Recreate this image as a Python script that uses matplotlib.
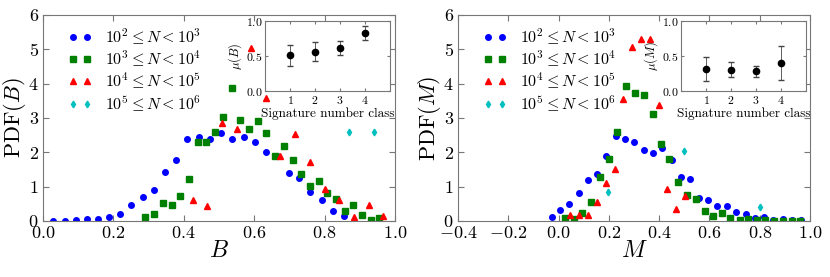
import matplotlib
matplotlib.use('Agg')
import matplotlib.pyplot as plt
import numpy as np

plt.rcParams['font.family'] = 'serif'
plt.rcParams['font.serif'] = ['cmr10', 'DejaVu Serif']
plt.rcParams['mathtext.fontset'] = 'cm'
plt.rcParams['axes.formatter.use_mathtext'] = True
plt.rcParams['axes.unicode_minus'] = True

# ---- data ----
labels = [r'$10^2 \leq N < 10^3$', r'$10^3 \leq N < 10^4$',
          r'$10^4 \leq N < 10^5$', r'$10^5 \leq N < 10^6$']

# PDF(B)
b1_x = [0.028, 0.062, 0.093, 0.125, 0.156, 0.188, 0.220, 0.251, 0.284, 0.315, 0.348, 0.379,
        0.410, 0.443, 0.474, 0.507, 0.538, 0.571, 0.602, 0.633, 0.665, 0.698, 0.728, 0.760,
        0.792, 0.824, 0.856]
b1_y = [0.0, 0.0, 0.02, 0.05, 0.06, 0.13, 0.20, 0.47, 0.69, 0.89, 1.42, 1.78,
        2.38, 2.46, 2.40, 2.55, 2.40, 2.46, 2.29, 2.00, 1.90, 1.39, 1.24, 0.84,
        0.61, 0.29, 0.15]
b2_x = [0.291, 0.316, 0.340, 0.366, 0.390, 0.414, 0.440, 0.464, 0.488, 0.512, 0.537, 0.561,
        0.586, 0.610, 0.635, 0.660, 0.684, 0.709, 0.734, 0.758, 0.783, 0.807, 0.832, 0.857,
        0.881, 0.906, 0.931, 0.955]
b2_y = [0.12, 0.21, 0.52, 0.47, 0.72, 1.22, 2.30, 2.30, 2.59, 3.02, 3.88, 2.95,
        2.67, 2.90, 2.56, 1.89, 2.17, 1.77, 1.37, 1.03, 1.17, 0.81, 0.65, 0.28,
        0.47, 0.16, 0.03, 0.08]
b3_x = [0.425, 0.466, 0.508, 0.550, 0.591, 0.633, 0.673, 0.716, 0.758, 0.800, 0.842, 0.883,
        0.925, 0.967]
b3_y = [0.61, 0.45, 2.85, 2.69, 5.05, 3.58, 1.90, 2.52, 1.72, 0.94, 0.61, 0.13,
        0.47, 0.15]
b4_x = [0.870, 0.940]
b4_y = [2.58, 2.58]

# PDF(M)
m1_x = [-0.028, 0.007, 0.043, 0.080, 0.117, 0.153, 0.190, 0.228, 0.266, 0.302, 0.339, 0.375,
        0.412, 0.450, 0.486, 0.524, 0.559, 0.595, 0.632, 0.669, 0.707, 0.744, 0.781, 0.818,
        0.855, 0.891, 0.927, 0.963]
m1_y = [0.13, 0.32, 0.50, 0.81, 1.19, 1.37, 1.90, 2.48, 2.38, 2.31, 2.07, 1.98,
        2.14, 1.77, 1.29, 1.21, 0.66, 0.60, 0.45, 0.43, 0.25, 0.21, 0.08, 0.11,
        0.02, 0.06, 0.02, 0.04]
m2_x = [0.027, 0.062, 0.095, 0.131, 0.165, 0.200, 0.233, 0.269, 0.303, 0.339, 0.374, 0.407,
        0.441, 0.477, 0.512, 0.546, 0.582, 0.616, 0.651, 0.684, 0.720, 0.754, 0.789, 0.823,
        0.858, 0.892, 0.927, 0.961]
m2_y = [0.08, 0.05, 0.22, 0.54, 1.29, 1.81, 2.60, 3.93, 3.72, 3.67, 3.13, 2.25,
        1.81, 1.15, 0.75, 0.65, 0.30, 0.15, 0.23, 0.08, 0.02, 0.05, 0.03, 0.02,
        0.01, 0.01, 0.01, 0.01]
m3_x = [0.046, 0.083, 0.119, 0.152, 0.189, 0.225, 0.258, 0.294, 0.330, 0.364, 0.398, 0.433,
        0.468, 0.502]
m3_y = [0.16, 0.16, 0.16, 0.55, 1.10, 1.50, 3.56, 5.08, 5.29, 5.29, 3.38, 0.92,
        0.35, 0.73]
m4_x = [0.196, 0.498, 0.800]
m4_y = [0.83, 2.05, 0.40]

# insets: mean per signature-number class
classes = [1, 2, 3, 4]
mu_B = [0.52, 0.57, 0.62, 0.83]
mu_B_err = [0.15, 0.13, 0.10, 0.10]
mu_M = [0.315, 0.31, 0.29, 0.41]
mu_M_err = [0.17, 0.11, 0.08, 0.24]

styles = [('o', 'b'), ('s', 'g'), ('^', 'r'), ('d', 'c')]
SPINE = '#777777'

fig = plt.figure(figsize=(8.3, 2.77), dpi=100)


def _frame(ax):
    for s in ax.spines.values():
        s.set_color(SPINE)
        s.set_linewidth(0.8)
    ax.tick_params(direction='in', top=True, right=True, color=SPINE)


def panel(rect, series, xlim, xticks, var, inset_rect, mu, err):
    ax = fig.add_axes(rect)
    for (xs, ys), (m, c), lab in zip(series, styles, labels):
        ax.plot(xs, ys, m, color=c, mec=c, ms=4.0 if m != 'd' else 3.4,
                linestyle='none', label=lab)
    ax.set_xlim(*xlim)
    ax.set_ylim(0, 6)
    ax.set_xticks(xticks)
    ax.set_yticks(range(0, 7))
    ax.tick_params(labelsize=13, length=4, pad=3)
    ax.set_xlabel('$%s$' % var, fontsize=17, labelpad=-1)
    ax.set_ylabel(r'$\mathrm{PDF}(%s)$' % var, fontsize=16, labelpad=0)
    ax.legend(loc='upper left', frameon=False, numpoints=2, fontsize=11.5,
              handlelength=1.5, handletextpad=0.8, labelspacing=0.12,
              borderaxespad=0.3, bbox_to_anchor=(0.04, 1.0))
    _frame(ax)

    ins = fig.add_axes(inset_rect)
    ins.errorbar(classes, mu, yerr=err, fmt='o', color='k', ms=4.5,
                 ecolor='#444444', elinewidth=0.6, capsize=2)
    ins.set_xlim(0, 5)
    ins.set_ylim(0, 1.0)
    ins.set_xticks(classes)
    ins.set_yticks([0.0, 0.5, 1.0])
    ins.tick_params(labelsize=8.5, length=2.5, pad=2)
    ins.set_xlabel('Signature number class', fontsize=9.5, labelpad=1)
    ins.set_ylabel(r'$\mu(%s)$' % var, fontsize=9, labelpad=1)
    _frame(ins)


panel([0.0518, 0.2022, 0.424, 0.7437],
      [(b1_x, b1_y), (b2_x, b2_y), (b3_x, b3_y), (b4_x, b4_y)],
      (0, 1.0), np.arange(0, 1.01, 0.2), 'B',
      [0.3193, 0.670, 0.1506, 0.2527], mu_B, mu_B_err)
panel([0.5518, 0.2022, 0.424, 0.7437],
      [(m1_x, m1_y), (m2_x, m2_y), (m3_x, m3_y), (m4_x, m4_y)],
      (-0.4, 1.0), np.arange(-0.4, 1.01, 0.2), 'M',
      [0.8205, 0.670, 0.1506, 0.2527], mu_M, mu_M_err)

fig.savefig('out.png', dpi=100, facecolor='white')
